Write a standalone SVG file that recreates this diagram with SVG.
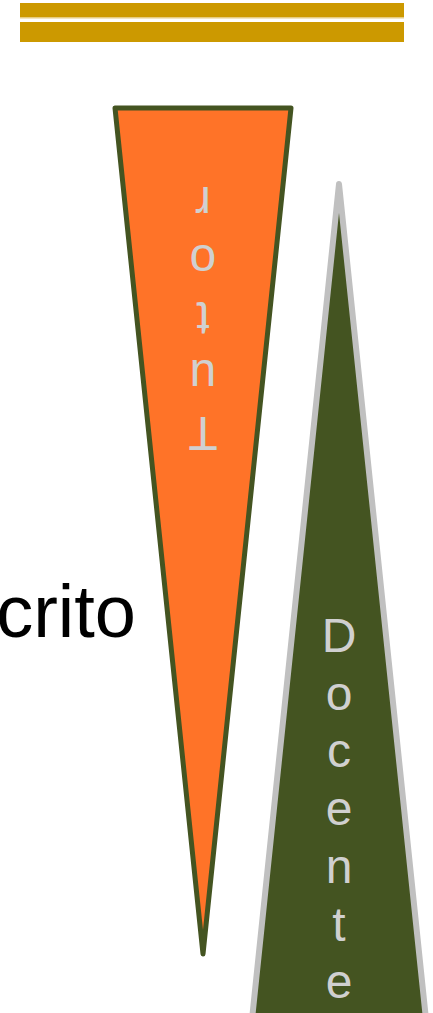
<svg xmlns="http://www.w3.org/2000/svg" width="433" height="1013" viewBox="0 0 433 1013">
<style>
.bar{fill:#CC9900}
.lbl{font-family:"Liberation Sans",Arial,sans-serif;font-size:48px;fill:#D0D0D0;text-anchor:middle}
.big{font-family:"Liberation Sans",Arial,sans-serif;font-size:74px;fill:#000000;text-anchor:end}
</style>
<rect width="433" height="1013" fill="#FFFFFF"/>
<g id="header">
<rect class="bar" x="20" y="3" width="384" height="14"/>
<rect x="20" y="17" width="384" height="1.5" fill="#E6CC80"/>
<rect class="bar" x="20" y="22" width="384" height="20"/>
</g>
<g id="title">
<text class="big" x="136" y="637">crito</text>
</g>
<g id="docente">
<polygon points="339,184 427,1029 251,1029" fill="#445421" stroke="#C0C0C0" stroke-width="6" stroke-linejoin="round"/>
<text class="lbl" x="339" y="652">D<tspan x="339" dy="57.7">o</tspan><tspan x="339" dy="57.7">c</tspan><tspan x="339" dy="57.7">e</tspan><tspan x="339" dy="57.7">n</tspan><tspan x="339" dy="57.7">t</tspan><tspan x="339" dy="57.7">e</tspan></text>
</g>
<g id="tutor">
<polygon points="115,108 291,108 203,954" fill="#FF7328" stroke="#445421" stroke-width="5" stroke-linejoin="round"/>
<text class="lbl" x="203" y="417" transform="rotate(180 203 417)">T<tspan x="203" dy="57.5">u</tspan><tspan x="203" dy="57.5">t</tspan><tspan x="203" dy="57.5">o</tspan><tspan x="203" dy="57.5">r</tspan></text>
</g>
<g id="connectors"/>
</svg>
